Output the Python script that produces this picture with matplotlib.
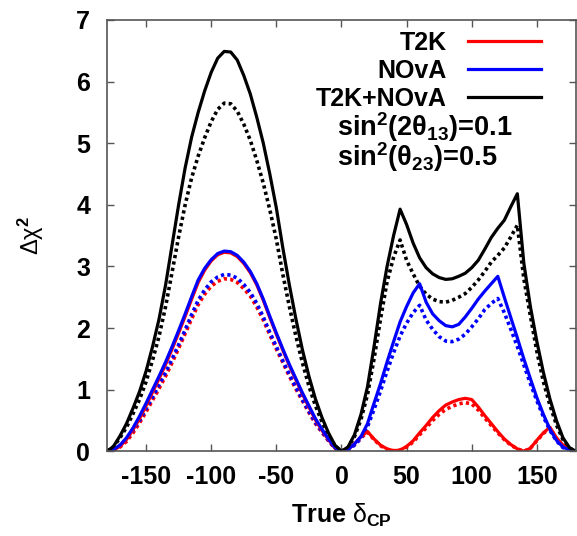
import numpy as np
import matplotlib
matplotlib.use("Agg")
import matplotlib.pyplot as plt

plt.rcParams['font.family'] = ['Liberation Sans', 'DejaVu Sans']
plt.rcParams['mathtext.fontset'] = 'custom'
plt.rcParams['mathtext.rm'] = 'Liberation Sans'
plt.rcParams['mathtext.it'] = 'Liberation Sans:italic'
plt.rcParams['mathtext.bf'] = 'Liberation Sans:bold'
plt.rcParams['axes.unicode_minus'] = False

# True delta_CP grid (degrees), -180..180 in steps of 5
delta_cp = np.arange(-180, 181, 5)

# Delta chi^2 values (solid = one case, dotted = other case)
t2k_solid = [0, 0.02, 0.08, 0.19, 0.35, 0.53, 0.74, 0.96, 1.18, 1.41, 1.66, 1.92, 2.19, 2.47, 2.74, 2.94, 3.09, 3.19, 3.23,
             3.22, 3.16, 3.05, 2.90, 2.70, 2.45, 2.17, 1.90, 1.64, 1.39, 1.16, 0.93, 0.72, 0.51, 0.34, 0.19, 0.05, 0,
             0.03, 0.12, 0.24, 0.32, 0.20, 0.10, 0.04, 0.01, 0.02, 0.08, 0.17, 0.30, 0.42, 0.55, 0.66, 0.75, 0.80, 0.84,
             0.86, 0.84, 0.72, 0.58, 0.45, 0.32, 0.20, 0.11, 0.04, 0.00, 0.05, 0.18, 0.30, 0.39, 0.22, 0.10, 0.02, 0.00]
t2k_dotted = [0, 0.02, 0.07, 0.16, 0.30, 0.46, 0.64, 0.83, 1.02, 1.22, 1.44, 1.67, 1.91, 2.15, 2.38, 2.55, 2.68, 2.76, 2.80,
              2.79, 2.74, 2.64, 2.52, 2.34, 2.13, 1.89, 1.66, 1.44, 1.22, 1.01, 0.82, 0.63, 0.45, 0.31, 0.17, 0.05, 0,
              0.03, 0.11, 0.22, 0.31, 0.19, 0.09, 0.03, 0.01, 0.02, 0.07, 0.15, 0.27, 0.38, 0.50, 0.60, 0.68, 0.73, 0.77,
              0.79, 0.77, 0.67, 0.54, 0.42, 0.30, 0.19, 0.10, 0.04, 0.00, 0.05, 0.17, 0.29, 0.38, 0.21, 0.09, 0.02, 0.00]
nova_solid = [0, 0.03, 0.10, 0.22, 0.38, 0.57, 0.78, 1.00, 1.22, 1.45, 1.70, 1.96, 2.23, 2.51, 2.78, 2.97, 3.11, 3.21, 3.25,
              3.24, 3.18, 3.07, 2.92, 2.72, 2.47, 2.19, 1.92, 1.66, 1.41, 1.18, 0.95, 0.74, 0.53, 0.36, 0.20, 0.06, 0,
              0.03, 0.12, 0.24, 0.45, 0.78, 1.10, 1.45, 1.78, 2.10, 2.35, 2.57, 2.72, 2.42, 2.23, 2.12, 2.04, 2.02, 2.06,
              2.18, 2.32, 2.47, 2.60, 2.72, 2.84, 2.50, 2.17, 1.84, 1.50, 1.18, 0.87, 0.60, 0.36, 0.18, 0.07, 0.02, 0.00]
nova_dotted = [0, 0.03, 0.09, 0.19, 0.34, 0.50, 0.69, 0.88, 1.08, 1.28, 1.50, 1.73, 1.97, 2.22, 2.45, 2.62, 2.75, 2.83, 2.87,
               2.86, 2.81, 2.71, 2.58, 2.40, 2.18, 1.93, 1.70, 1.47, 1.25, 1.04, 0.84, 0.65, 0.47, 0.32, 0.18, 0.05, 0,
               0.02, 0.10, 0.21, 0.40, 0.68, 0.98, 1.30, 1.60, 1.87, 2.08, 2.25, 2.37, 2.13, 1.98, 1.86, 1.79, 1.78, 1.82,
               1.90, 2.02, 2.15, 2.30, 2.40, 2.48, 2.25, 1.98, 1.70, 1.40, 1.10, 0.82, 0.56, 0.34, 0.17, 0.06, 0.01, 0.00]
comb_solid = [0.00, 0.08, 0.25, 0.45, 0.70, 0.97, 1.30, 1.70, 2.15, 2.70, 3.35, 4.00, 4.60, 5.10, 5.50, 5.85, 6.15, 6.38, 6.49,
              6.48, 6.35, 6.10, 5.80, 5.42, 5.00, 4.50, 3.95, 3.30, 2.70, 2.15, 1.65, 1.22, 0.85, 0.55, 0.30, 0.10, 0.00,
              0.07, 0.27, 0.60, 1.05, 1.70, 2.40, 3.00, 3.50, 3.93, 3.68, 3.38, 3.14, 2.98, 2.88, 2.82, 2.79, 2.80, 2.84,
              2.89, 2.98, 3.10, 3.28, 3.47, 3.62, 3.75, 3.97, 4.18, 3.05, 2.35, 1.78, 1.28, 0.85, 0.50, 0.22, 0.06, 0.00]
comb_dotted = [0.00, 0.07, 0.22, 0.39, 0.61, 0.84, 1.13, 1.48, 1.87, 2.35, 2.91, 3.48, 4.00, 4.44, 4.79, 5.09, 5.35, 5.55, 5.65,
               5.64, 5.52, 5.31, 5.05, 4.72, 4.35, 3.92, 3.44, 2.87, 2.35, 1.87, 1.44, 1.06, 0.74, 0.48, 0.26, 0.09, 0.00,
               0.06, 0.24, 0.52, 0.92, 1.50, 2.15, 2.75, 3.15, 3.43, 3.10, 2.88, 2.68, 2.55, 2.47, 2.43, 2.42, 2.45, 2.50,
               2.56, 2.66, 2.78, 2.92, 3.07, 3.18, 3.30, 3.48, 3.67, 2.80, 2.20, 1.62, 1.13, 0.75, 0.43, 0.19, 0.05, 0.00]

labels = ["T2K", "NOvA", "T2K+NOvA"]
colors = ["red", "blue", "black"]
x_ticks = [-150, -100, -50, 0, 50, 100, 150]
y_ticks = [0, 1, 2, 3, 4, 5, 6, 7]

fig = plt.figure(figsize=(5.77, 5.36), dpi=100)
ax = fig.add_axes([0.1854, 0.158, 0.8128, 0.8047])

dots = (0, (0.9, 0.9))
for y, c in zip([t2k_dotted, nova_dotted, comb_dotted], colors):
    ax.plot(delta_cp, y, color=c, lw=2.6, linestyle=dots, dash_capstyle='butt')
handles = []
for y, c, lab in zip([t2k_solid, nova_solid, comb_solid], colors, labels):
    h, = ax.plot(delta_cp, y, color=c, lw=2.3, label=lab)
    handles.append(h)

ax.set_xlim(-180, 180)
ax.set_ylim(0, 7)
ax.set_xticks(x_ticks)
ax.set_yticks(y_ticks)
ax.tick_params(direction='in', length=5, width=1, color='#555555', top=True, right=True,
               labelsize=18)
ax.tick_params(axis='x', pad=10)
ax.tick_params(axis='y', pad=12)
for lbl in ax.get_xticklabels() + ax.get_yticklabels():
    lbl.set_fontweight('bold')
for sp in ax.spines.values():
    sp.set_color('#555555')
    sp.set_linewidth(1.2)

ax.set_xlabel(r'True $\mathrm{\delta}_{\mathbf{CP}}$', fontsize=18, fontweight='bold', labelpad=9)
ax.set_ylabel(r'$\mathrm{\Delta\chi}^{\mathbf{2}}$', fontsize=17, labelpad=22)

leg = ax.legend(handles=handles, loc='upper right', bbox_to_anchor=(0.925, 0.975),
                markerfirst=False, frameon=False, fontsize=18, handlelength=2.9,
                handletextpad=0.85, labelspacing=0.16, borderpad=0, borderaxespad=0)
for t in leg.get_texts():
    t.set_fontweight('bold')

# oscillation parameters, two lines in one text block
params = (r'$\mathbf{sin^2(2\theta_{13})}$=0.1' + '\n' +
          r'$\mathbf{sin^2(\theta_{23})}$=0.5')
ax.text(0.49, 0.716, params, transform=ax.transAxes, fontsize=19.5, fontweight='bold',
        ha='left', va='center', linespacing=0.86)

fig.savefig("out.png", dpi=100)
